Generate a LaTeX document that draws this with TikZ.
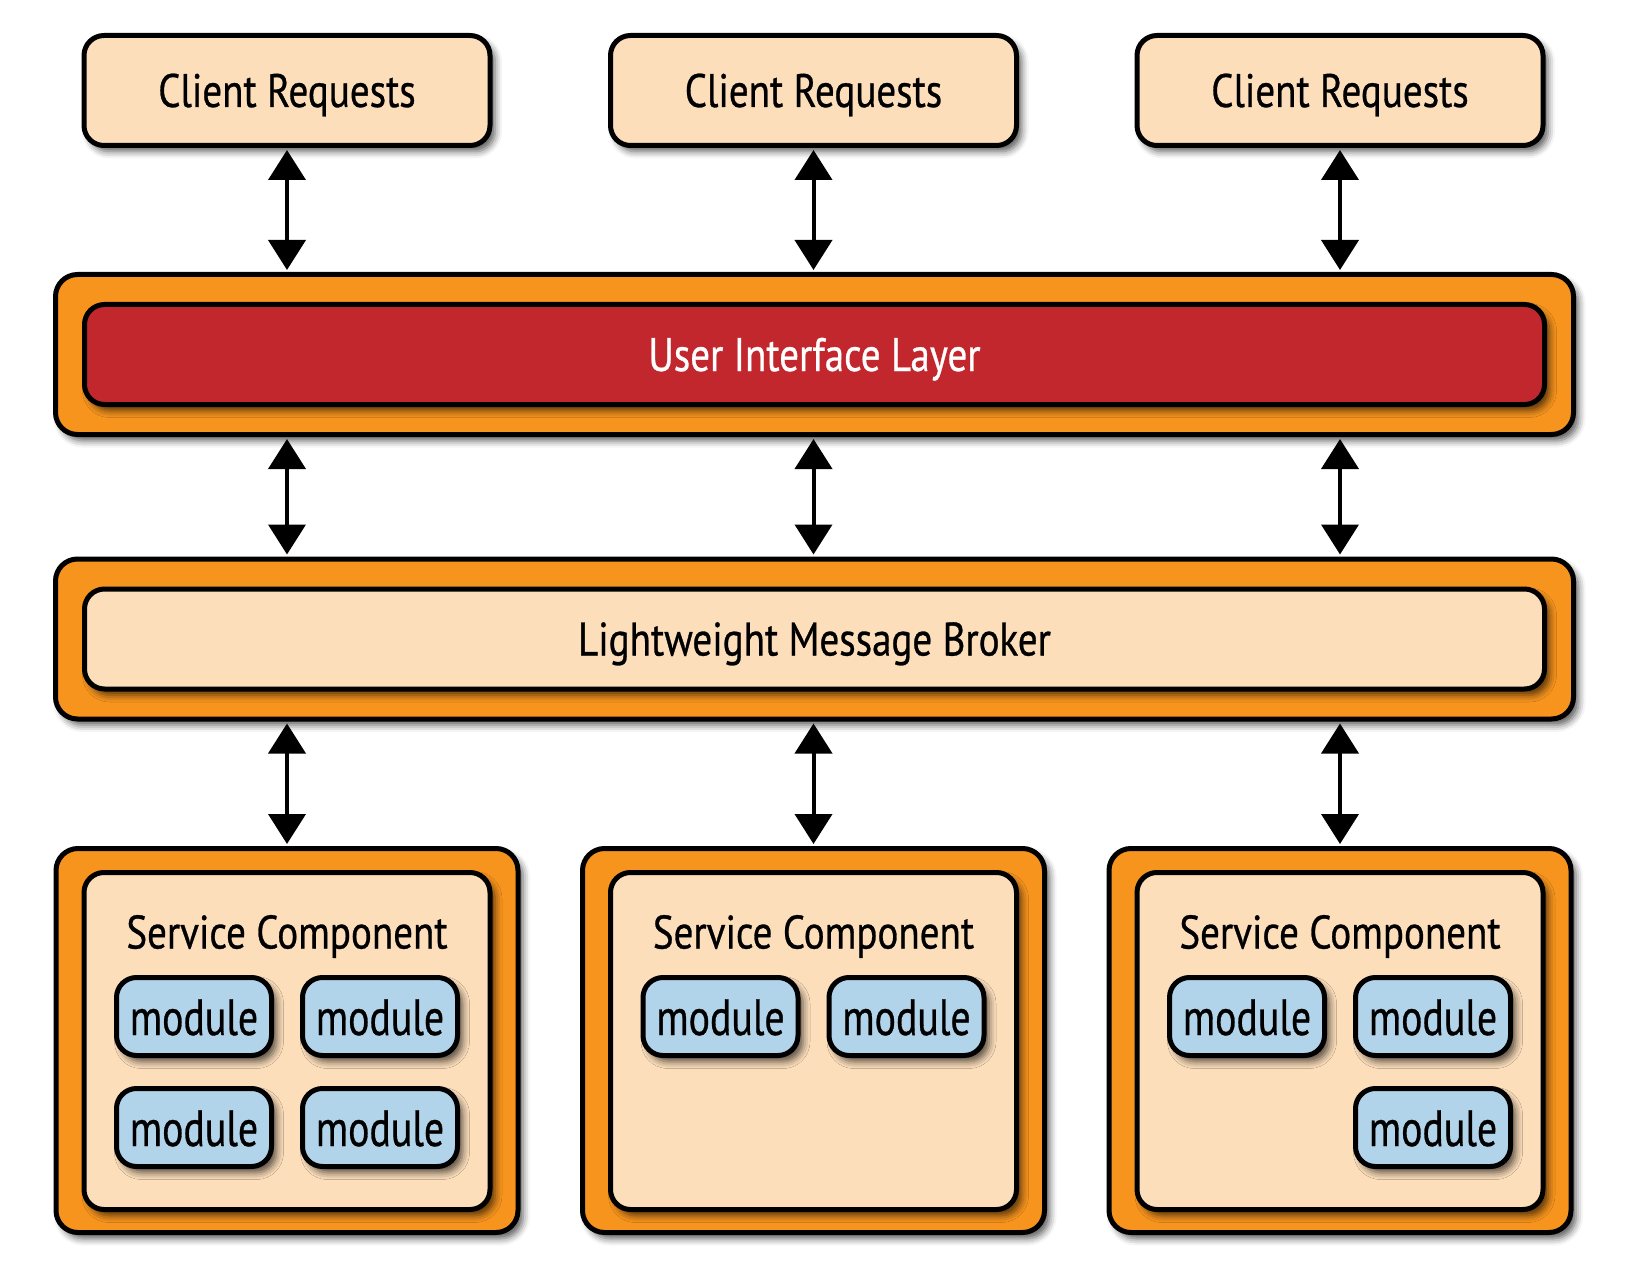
\documentclass[tikz,border=0pt]{standalone}
\usepackage{fontspec}
\setmainfont{PT Sans}[FakeStretch=0.83, FakeBold=0.6]
\newfontfamily\modulefont{PT Sans}[FakeStretch=0.78, FakeBold=0.6]
\usetikzlibrary{arrows.meta,shadows.blur,calc}

\definecolor{peach}{HTML}{FCDEBB}
\definecolor{orangeframe}{HTML}{F7941E}
\definecolor{uired}{HTML}{C1272D}
\definecolor{moduleblue}{HTML}{B2D4EB}

\tikzset{
  softshadow/.style={blur shadow={shadow xshift=5pt, shadow yshift=-6pt,
      shadow blur radius=7pt, shadow opacity=65}},
  panel/.style={draw=black, line width=5pt, rounded corners=20pt, inner sep=0pt,
      softshadow},
  clientbox/.style={panel, fill=peach, minimum width=406pt, minimum height=110pt,
      font=\fontsize{47}{50}\selectfont, text height=33pt, text depth=0pt},
  layerframe/.style={panel, fill=orangeframe, minimum width=1518pt, minimum height=160pt,
      rounded corners=22pt},
  layerbar/.style={panel, minimum width=1460pt, minimum height=100pt,
      font=\fontsize{47}{50}\selectfont, text height=33pt, text depth=0pt},
  serviceframe/.style={panel, fill=orangeframe, minimum width=462pt, minimum height=384pt,
      rounded corners=22pt},
  servicebox/.style={panel, fill=peach, minimum width=406pt, minimum height=337pt},
  servicetitle/.style={font=\fontsize{47}{50}\selectfont, text height=33pt, text depth=0pt,
      inner sep=0pt},
  modulebox/.style={panel, fill=moduleblue, minimum width=155pt, minimum height=78pt,
      font=\modulefont\fontsize{51}{54}\selectfont, text height=37pt, text depth=0pt},
  link/.style={line width=4pt, shorten <=2pt, shorten >=2pt,
      {Triangle[width=37pt,length=30pt]}-{Triangle[width=37pt,length=30pt]}},
}

\begin{document}
\begin{tikzpicture}[x=1pt, y=-1pt]
  \useasboundingbox (0,0) rectangle (1628,1281);

  % client request boxes
  \node[clientbox] (c1) at (287,90.5) {Client Requests};
  \node[clientbox] (c2) at (813.5,90.5) {Client Requests};
  \node[clientbox] (c3) at (1340,90.5) {Client Requests};

  % user interface layer
  \node[layerframe] (uiframe) at (814.5,354.5) {};
  \node[layerbar, fill=uired, text=white] (ui) at (814.5,354.5) {User Interface Layer};

  % message broker layer
  \node[layerframe] (brokerframe) at (814.5,639) {};
  \node[layerbar, fill=peach] (broker) at (814.5,639) {Lightweight Message Broker};

  % service components
  \foreach \i/\cx in {1/287, 2/813.5, 3/1340} {
    \node[serviceframe] (s\i) at (\cx,1040.5) {};
    \node[servicebox] (sb\i) at (\cx,1041) {};
    \node[servicetitle] (st\i) at (\cx,932) {Service Component};
  }

  % modules
  \node[modulebox] (m11) at (194,1016.5) {module};
  \node[modulebox] (m12) at (380,1016.5) {module};
  \node[modulebox] (m13) at (194,1127.5) {module};
  \node[modulebox] (m14) at (380,1127.5) {module};

  \node[modulebox] (m21) at (720.5,1016.5) {module};
  \node[modulebox] (m22) at (906.5,1016.5) {module};

  \node[modulebox] (m31) at (1247,1016.5) {module};
  \node[modulebox] (m32) at (1433,1016.5) {module};
  \node[modulebox] (m33) at (1433,1127.5) {module};

  % connectors
  \foreach \i in {1,2,3} {
    \draw[link] (c\i.south) -- (c\i.south |- uiframe.north);
    \draw[link] (c\i.south |- uiframe.south) -- (c\i.south |- brokerframe.north);
    \draw[link] (c\i.south |- brokerframe.south) -- (s\i.north);
  }
\end{tikzpicture}
\end{document}
